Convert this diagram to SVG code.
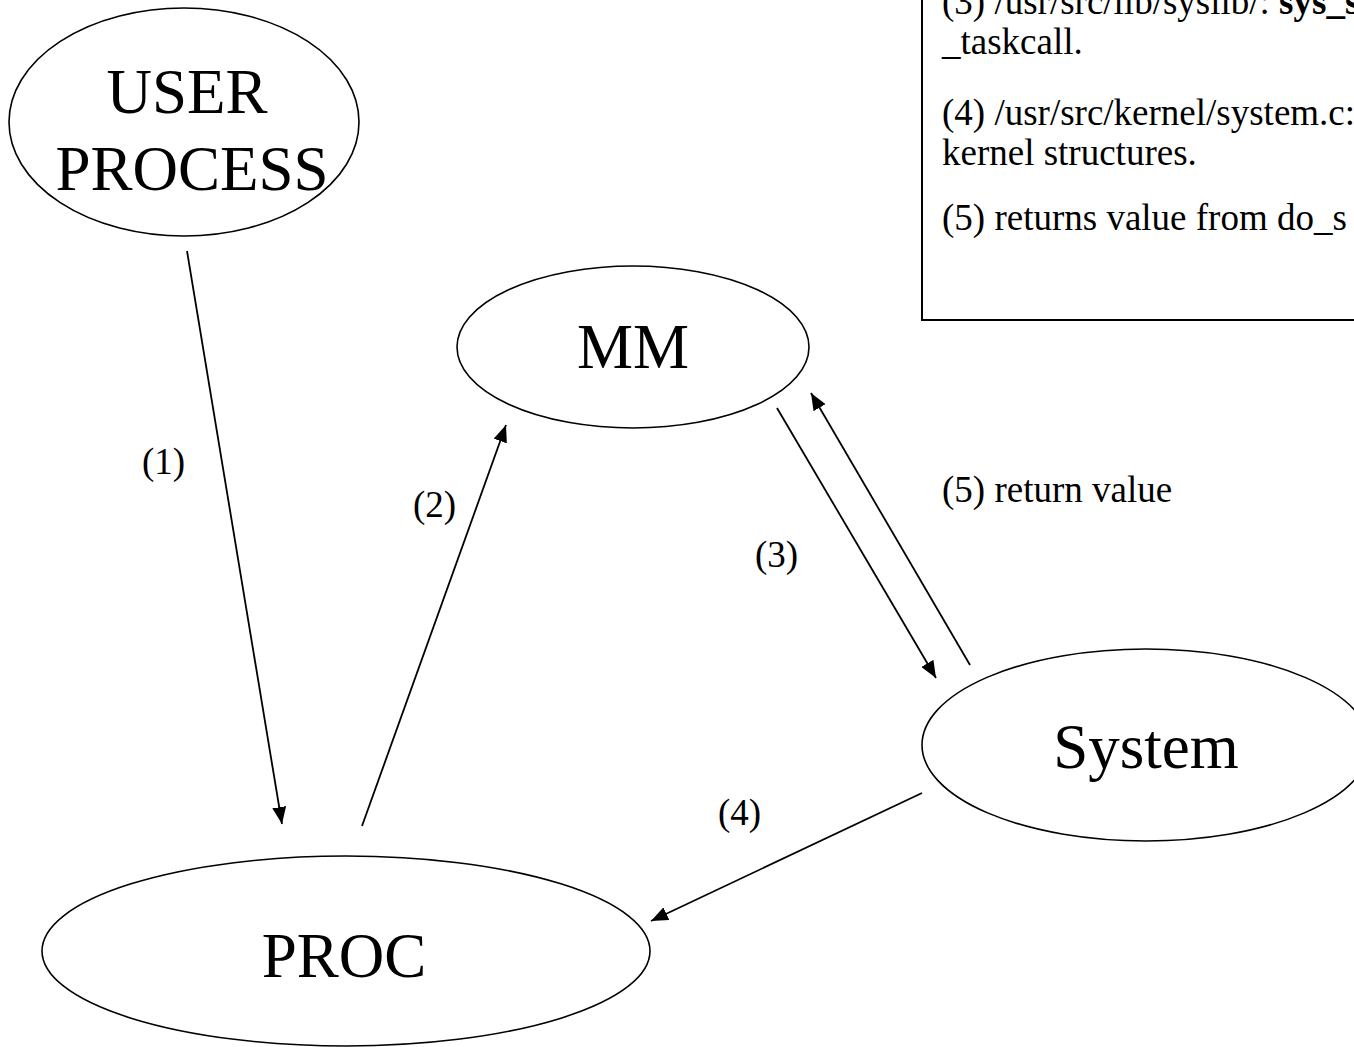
<svg xmlns="http://www.w3.org/2000/svg" width="1354" height="1047" viewBox="0 0 1354 1047">
<style>
.n{fill:#fff;stroke:#000;stroke-width:1.6}
.t{font-family:"Liberation Serif","Times New Roman",serif;fill:#000}
.big{font-size:63px}
.sm{font-size:37px}
.c{stroke:#000;stroke-width:1.8;fill:none;marker-end:url(#ah)}
</style>
<defs>
<marker id="ah" markerUnits="userSpaceOnUse" markerWidth="18" markerHeight="14" refX="17" refY="7" orient="auto">
<path d="M0,0 L17,7 L0,14 z" fill="#000"/>
</marker>
</defs>
<rect width="1354" height="1047" fill="#fff"/>
<g id="note">
<rect x="922" y="-20" width="460" height="340" fill="#fff" stroke="#000" stroke-width="2"/>
<text class="t sm" x="942" y="14">(3) /usr/src/lib/syslib/: <tspan font-weight="bold">sys_s</tspan></text>
<text class="t sm" x="942" y="54">_taskcall.</text>
<text class="t sm" x="942" y="125">(4) /usr/src/kernel/system.c:</text>
<text class="t sm" x="942" y="165">kernel structures.</text>
<text class="t sm" x="942" y="230">(5) returns value from do_s</text>
</g>
<g id="user-process">
<ellipse class="n" cx="184" cy="122" rx="175" ry="114"/>
<text class="t big" x="187" y="113" text-anchor="middle">USER</text>
<text class="t big" x="192" y="190" text-anchor="middle">PROCESS</text>
</g>
<g id="mm">
<ellipse class="n" cx="633" cy="347" rx="176" ry="81"/>
<text class="t big" x="633" y="368" text-anchor="middle">MM</text>
</g>
<g id="system">
<ellipse class="n" cx="1146" cy="745" rx="224" ry="96"/>
<text class="t big" x="1146" y="768" text-anchor="middle">System</text>
</g>
<g id="proc">
<ellipse class="n" cx="346" cy="951" rx="304" ry="95"/>
<text class="t big" x="344" y="977" text-anchor="middle">PROC</text>
</g>
<g id="connectors">
<line class="c" x1="187" y1="251" x2="282" y2="824"/>
<line class="c" x1="362" y1="826" x2="506" y2="425"/>
<line class="c" x1="777" y1="408" x2="936" y2="678"/>
<line class="c" x1="970" y1="665" x2="811" y2="393"/>
<line class="c" x1="922" y1="793" x2="651" y2="921"/>
</g>
<g id="labels">
<text class="t sm" x="142" y="474">(1)</text>
<text class="t sm" x="413" y="517">(2)</text>
<text class="t sm" x="755" y="567">(3)</text>
<text class="t sm" x="718" y="825">(4)</text>
<text class="t sm" x="942" y="502">(5) return value</text>
</g>
</svg>
